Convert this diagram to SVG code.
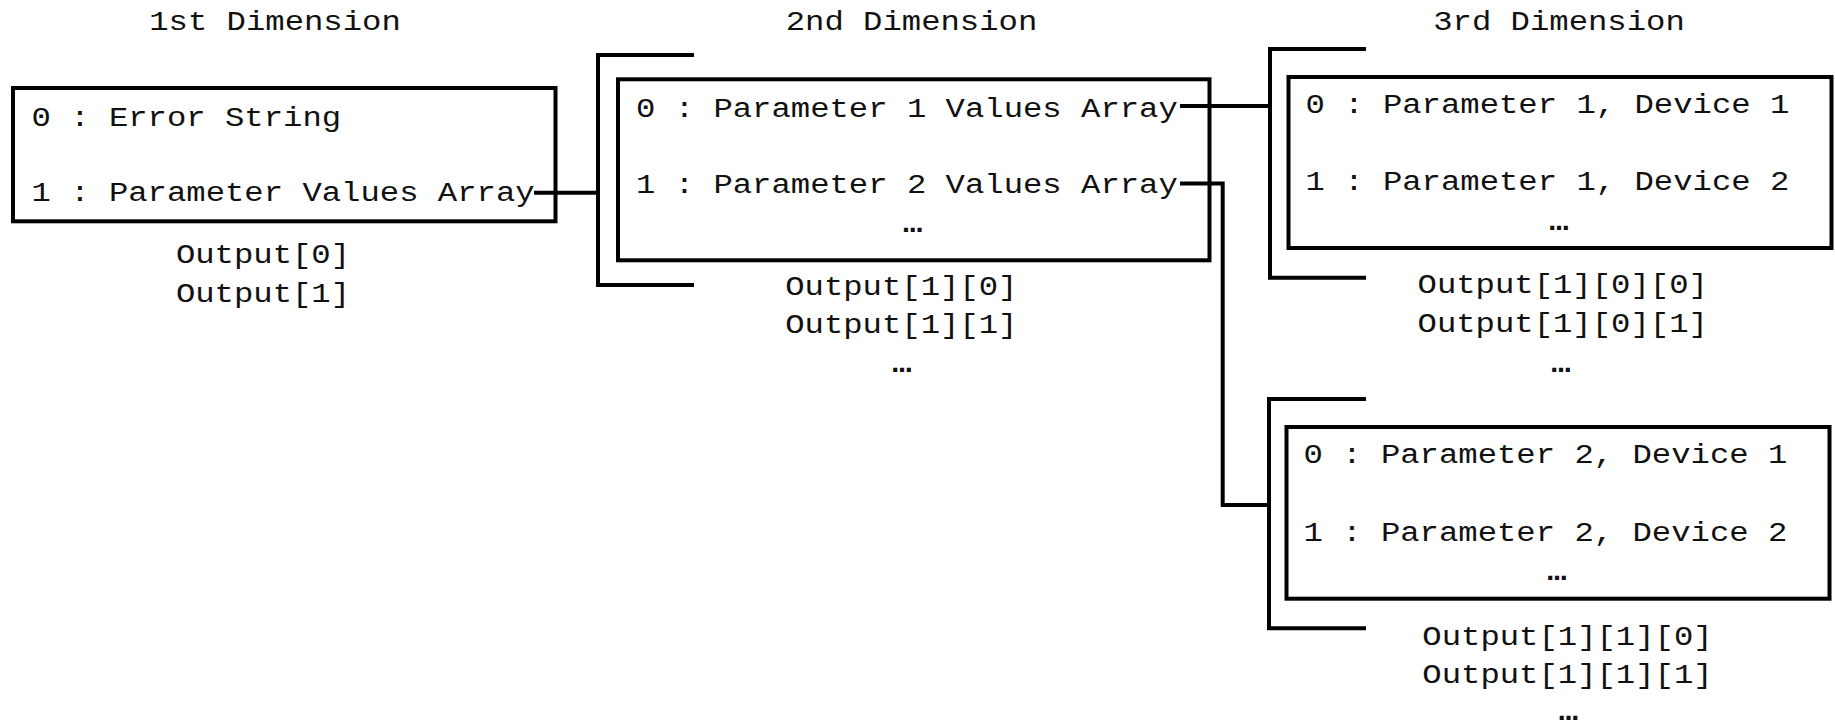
<svg xmlns="http://www.w3.org/2000/svg" width="1835" height="725" viewBox="0 0 1835 725">
  <style>
    .frame { fill: none; stroke: #000; stroke-width: 4; }
    .wire { fill: none; stroke: #000; stroke-width: 4; }
    text { font-family: "Liberation Mono", "DejaVu Sans Mono", monospace; font-size: 27px; fill: #111; }
    .mid { text-anchor: middle; }
    .more { font-weight: bold; }
  </style>
  <rect width="1835" height="725" fill="#fff"/>

  <!-- column headings -->
  <g id="headings">
    <text class="mid" x="275" y="29.5" textLength="251.6" lengthAdjust="spacingAndGlyphs">1st Dimension</text>
    <text class="mid" x="911.5" y="29.5" textLength="251.6" lengthAdjust="spacingAndGlyphs">2nd Dimension</text>
    <text class="mid" x="1559" y="29.5" textLength="251.6" lengthAdjust="spacingAndGlyphs">3rd Dimension</text>
  </g>

  <!-- connectors -->
  <g id="connectors">
    <path class="wire" d="M534,192.7 H598"/>
    <path class="wire" d="M1180,106 H1270"/>
    <path class="wire" d="M1180,183.5 H1222.7 V505 H1269"/>
  </g>

  <!-- 1st dimension: output array -->
  <g id="dim1">
    <rect class="frame" x="13" y="88" width="542.5" height="133.3"/>
    <text x="31.5" y="126" textLength="309.6" lengthAdjust="spacingAndGlyphs">0 : Error String</text>
    <text x="31.5" y="201" textLength="503.1" lengthAdjust="spacingAndGlyphs">1 : Parameter Values Array</text>
    <text class="mid" x="263" y="263" textLength="174.2" lengthAdjust="spacingAndGlyphs">Output[0]</text>
    <text class="mid" x="263" y="301.5" textLength="174.2" lengthAdjust="spacingAndGlyphs">Output[1]</text>
  </g>

  <!-- 2nd dimension: parameter values arrays -->
  <g id="dim2">
    <path class="frame" d="M694,55 H598 V285 H694"/>
    <rect class="frame" x="618" y="79.3" width="591.5" height="181"/>
    <text x="636" y="116.7" textLength="541.8" lengthAdjust="spacingAndGlyphs">0 : Parameter 1 Values Array</text>
    <text x="636" y="193.3" textLength="541.8" lengthAdjust="spacingAndGlyphs">1 : Parameter 2 Values Array</text>
    <text class="mid more" x="912.6" y="232" textLength="19.35" lengthAdjust="spacingAndGlyphs">…</text>
    <text class="mid" x="901.3" y="295" textLength="232.2" lengthAdjust="spacingAndGlyphs">Output[1][0]</text>
    <text class="mid" x="901.3" y="333" textLength="232.2" lengthAdjust="spacingAndGlyphs">Output[1][1]</text>
    <text class="mid more" x="902" y="372" textLength="19.35" lengthAdjust="spacingAndGlyphs">…</text>
  </g>

  <!-- 3rd dimension: parameter 1 devices -->
  <g id="dim3-param1">
    <path class="frame" d="M1366,49 H1270 V277.7 H1366"/>
    <rect class="frame" x="1288.5" y="77" width="543" height="171"/>
    <text x="1305.5" y="113.3" textLength="483.8" lengthAdjust="spacingAndGlyphs">0 : Parameter 1, Device 1</text>
    <text x="1305.5" y="190" textLength="483.8" lengthAdjust="spacingAndGlyphs">1 : Parameter 1, Device 2</text>
    <text class="mid more" x="1559" y="229.5" textLength="19.35" lengthAdjust="spacingAndGlyphs">…</text>
    <text class="mid" x="1562.7" y="293.3" textLength="290.3" lengthAdjust="spacingAndGlyphs">Output[1][0][0]</text>
    <text class="mid" x="1562.7" y="331.7" textLength="290.3" lengthAdjust="spacingAndGlyphs">Output[1][0][1]</text>
    <text class="mid more" x="1561" y="371.5" textLength="19.35" lengthAdjust="spacingAndGlyphs">…</text>
  </g>

  <!-- 3rd dimension: parameter 2 devices -->
  <g id="dim3-param2">
    <path class="frame" d="M1366,399 H1269 V628.3 H1366"/>
    <rect class="frame" x="1286.5" y="427" width="543" height="171.7"/>
    <text x="1303.5" y="463.3" textLength="483.8" lengthAdjust="spacingAndGlyphs">0 : Parameter 2, Device 1</text>
    <text x="1303.5" y="540.7" textLength="483.8" lengthAdjust="spacingAndGlyphs">1 : Parameter 2, Device 2</text>
    <text class="mid more" x="1557" y="580" textLength="19.35" lengthAdjust="spacingAndGlyphs">…</text>
    <text class="mid" x="1567.5" y="645" textLength="290.3" lengthAdjust="spacingAndGlyphs">Output[1][1][0]</text>
    <text class="mid" x="1567.5" y="683.3" textLength="290.3" lengthAdjust="spacingAndGlyphs">Output[1][1][1]</text>
    <text class="mid more" x="1568.5" y="720" textLength="19.35" lengthAdjust="spacingAndGlyphs">…</text>
  </g>
</svg>
